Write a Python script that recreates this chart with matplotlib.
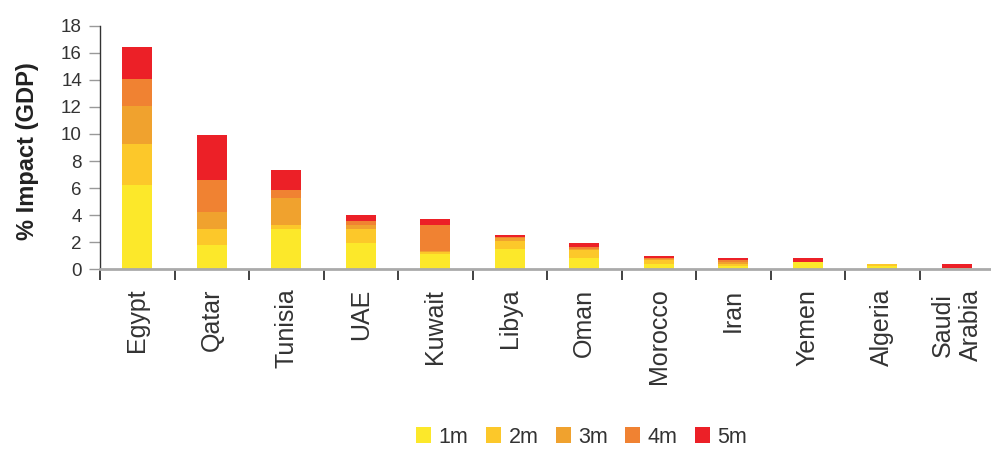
import matplotlib
matplotlib.use("Agg")
import matplotlib.pyplot as plt
import numpy as np

countries = ["Egypt", "Qatar", "Tunisia", "UAE", "Kuwait", "Libya", "Oman",
             "Morocco", "Iran", "Yemen", "Algeria", "Saudi\nArabia"]
series_names = ["1m", "2m", "3m", "4m", "5m"]
s1m = [6.23, 1.80, 2.98, 1.92, 1.11, 1.48, 0.81, 0.37, 0.22, 0.52, 0.22, 0.05]
s2m = [3.03, 1.18, 0.29, 1.04, 0.15, 0.59, 0.59, 0.30, 0.15, 0.00, 0.15, 0.04]
s3m = [2.81, 1.25, 2.00, 0.30, 0.07, 0.22, 0.08, 0.07, 0.15, 0.00, 0.00, 0.00]
s4m = [2.00, 2.37, 0.59, 0.29, 1.93, 0.07, 0.15, 0.07, 0.15, 0.00, 0.00, 0.00]
s5m = [2.36, 3.33, 1.48, 0.44, 0.44, 0.15, 0.29, 0.15, 0.15, 0.30, 0.00, 0.30]
yticks = [0, 2, 4, 6, 8, 10, 12, 14, 16, 18]

colors = ["#FCE82A", "#FCC82A", "#F0A22E", "#F08232", "#EC2027"]

plt.rcParams['font.family'] = ['Liberation Sans', 'DejaVu Sans']

fig = plt.figure(figsize=(9.91, 4.51), dpi=100)
ax = fig.add_axes([100/991, 0.4029, 894/991, 0.5401])

x = np.arange(len(countries))
bottom = np.zeros(len(countries))
for name, vals, c in zip(series_names, [s1m, s2m, s3m, s4m, s5m], colors):
    vals = np.array(vals)
    ax.bar(x, vals, width=0.4, bottom=bottom, color=c, edgecolor='none',
           label=name, zorder=2)
    bottom += vals

ax.set_xlim(-0.5, 11.5)
ax.set_ylim(0, 18)
ax.set_yticks(yticks)
ax.set_yticklabels([str(v) for v in yticks], fontsize=13.5, color='#333333')
ax.tick_params(axis='y', length=8, width=1, color='#999999', pad=5)

ax.set_xticks(x)
ax.set_xticklabels(countries, rotation=90, fontsize=18, color='#333333',
                   linespacing=1.25, va='top', ha='center')
ax.set_xticks(np.arange(-0.5, 12, 1), minor=True)
ax.tick_params(axis='x', which='major', length=0, pad=14)
ax.tick_params(axis='x', which='minor', length=8, width=1.3, color='#333333')

for s in ['top', 'right']:
    ax.spines[s].set_visible(False)
ax.spines['left'].set_color('#333333')
ax.spines['left'].set_linewidth(1.0)
ax.spines['bottom'].set_color('#aaaaaa')
ax.spines['bottom'].set_linewidth(2.0)
ax.spines['bottom'].set_zorder(3)

fig.text(28/991, 0.665, "% Impact (GDP)", rotation=90, ha='center', va='center',
         fontsize=17, fontweight='bold', color='#222222')

handles, labels = ax.get_legend_handles_labels()
fig.legend(handles, labels, loc='center', bbox_to_anchor=(0.587, 0.031), ncol=5,
           frameon=False, fontsize=15.5, handlelength=0.7, handleheight=0.7,
           handletextpad=0.35, columnspacing=0.8, labelcolor='#333333',
           borderaxespad=0, borderpad=0)

fig.savefig("out.png", dpi=100)
